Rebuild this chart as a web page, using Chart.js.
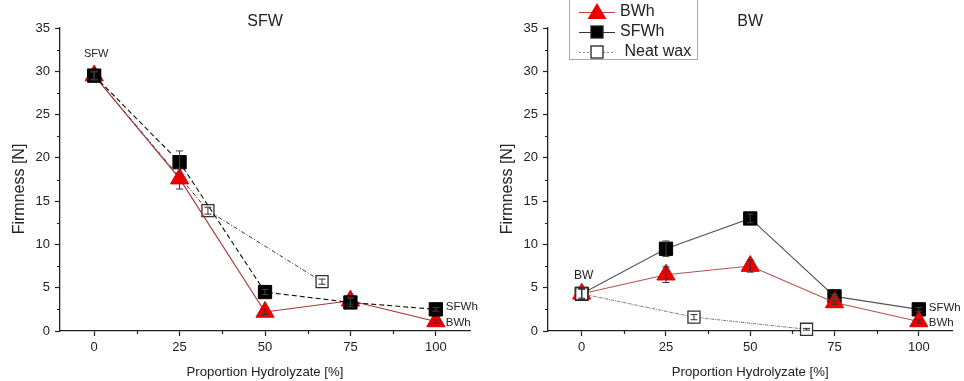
<!DOCTYPE html>
<html><head><meta charset="utf-8">
<script src="https://cdn.jsdelivr.net/npm/chart.js@4/dist/chart.umd.min.js"></script>
<style>
html,body{margin:0;padding:0;background:#fff;}
#wrap{position:relative;width:964px;height:381px;overflow:hidden;}
canvas{position:absolute;top:0;}
#c1{left:0}
#c2{left:482px}
</style></head><body>
<div id="wrap"><canvas id="c1" width="482" height="381"></canvas><canvas id="c2" width="482" height="381"></canvas></div>
<script>
// ---- data ----
const proportions = [0, 25, 50, 75, 100];
const neatProportions = [0, 33.3, 66.7];
const xTicks = [0, 25, 50, 75, 100];
const xMinorTicks = [12.5, 37.5, 62.5, 87.5];
const yTicks = [0, 5, 10, 15, 20, 25, 30, 35];
const yMinorTicks = [2.5, 7.5, 12.5, 17.5, 22.5, 27.5, 32.5];
const seriesNames = ['BWh', 'SFWh', ' Neat wax'];

// SFW panel
const sfwBWh = [29.5, 17.6, 2.2, 3.5, 1.1];
const sfwBWhErr = [0.4, 1.2, 0.3, 0.4, 0.2];
const sfwSFWh = [29.5, 19.5, 4.5, 3.3, 2.5];
const sfwSFWhErr = [0.5, 1.3, 0.3, 0.5, 0.2];
const sfwNeat = [29.5, 13.9, 5.7];
const sfwNeatErr = [0.5, 0.4, 0.3];

// BW panel
const bwBWh = [4.3, 6.5, 7.5, 3.3, 1.1];
const bwBWhErr = [0.6, 0.9, 0.7, 0.2, 0.2];
const bwSFWh = [4.3, 9.5, 13.0, 4.0, 2.5];
const bwSFWhErr = [0.5, 0.9, 0.5, 0.2, 0.2];
const bwNeat = [4.3, 1.6, 0.2];
const bwNeatErr = [0.7, 0.3, 0.1];

const FONT = '"Liberation Sans", Arial, Helvetica, sans-serif';
const TXT = '#222';
Chart.defaults.font.family = FONT;
Chart.defaults.color = TXT;

function pts(xs, ys) { return xs.map((x, i) => ({x: x, y: ys[i]})); }

// ---- plugins ----
const errorBarPlugin = {
  id: 'errbars',
  afterDatasetsDraw(chart) {
    const ctx = chart.ctx, xs = chart.scales.x, ys = chart.scales.y;
    chart.data.datasets.forEach(ds => {
      if (!ds.errors) return;
      ds.data.forEach((p, j) => {
        const e = ds.errors[j]; if (!e) return;
        const px = xs.getPixelForValue(p.x);
        const y1 = ys.getPixelForValue(p.y + e), y2 = ys.getPixelForValue(p.y - e);
        ctx.save();
        ctx.strokeStyle = ds.errorColor || '#333'; ctx.lineWidth = 1;
        ctx.beginPath();
        ctx.moveTo(px, y1); ctx.lineTo(px, y2);
        ctx.moveTo(px - 3.5, y1); ctx.lineTo(px + 3.5, y1);
        ctx.moveTo(px - 3.5, y2); ctx.lineTo(px + 3.5, y2);
        ctx.stroke(); ctx.restore();
      });
    });
  }
};

const minorTickPlugin = {
  id: 'minorticks',
  afterDraw(chart) {
    const ctx = chart.ctx, xs = chart.scales.x, ys = chart.scales.y, a = chart.chartArea;
    ctx.save(); ctx.strokeStyle = '#222'; ctx.lineWidth = 1.2; ctx.beginPath();
    xMinorTicks.forEach(v => { const px = Math.round(xs.getPixelForValue(v)) + 0.5; ctx.moveTo(px, a.bottom); ctx.lineTo(px, a.bottom + 3); });
    yMinorTicks.forEach(v => { const py = Math.round(ys.getPixelForValue(v)) + 0.5; ctx.moveTo(a.left, py); ctx.lineTo(a.left - 3, py); });
    ctx.stroke(); ctx.restore();
  }
};

const textPlugin = {
  id: 'paneltext',
  afterDraw(chart, args, opts) {
    const ctx = chart.ctx, a = chart.chartArea, xs = chart.scales.x, ys = chart.scales.y;
    ctx.save();
    ctx.fillStyle = TXT;
    // panel title
    ctx.font = '16px ' + FONT; ctx.textAlign = 'center'; ctx.textBaseline = 'middle';
    ctx.fillText(opts.title, (a.left + a.right) / 2, 22);
    // y axis title
    ctx.save();
    ctx.translate(opts.yTitleX, 189); ctx.rotate(-Math.PI / 2);
    ctx.font = '16px ' + FONT; ctx.fillText('Firmness [N]', 0, 0);
    ctx.restore();
    // notes tied to data points
    (opts.notes || []).forEach(n => {
      ctx.font = (n.size || 11.5) + 'px ' + FONT;
      ctx.textAlign = n.align || 'center';
      ctx.fillText(n.text, xs.getPixelForValue(n.x) + n.dx, ys.getPixelForValue(n.y) + n.dy);
    });
    ctx.restore();
  }
};

const legendPlugin = {
  id: 'customlegend',
  afterDraw(chart, args, opts) {
    if (!opts.show) return;
    const ctx = chart.ctx;
    ctx.save();
    ctx.fillStyle = '#fff'; ctx.fillRect(87, -1, 128, 61);
    ctx.strokeStyle = '#aaa'; ctx.lineWidth = 1; ctx.strokeRect(87.5, -1.5, 128, 61);
    const rows = [12, 32, 52];
    chart.data.datasets.forEach((ds, i) => {
      const y = rows[i];
      ctx.strokeStyle = ds.legendLine; ctx.lineWidth = 1;
      ctx.setLineDash(ds.legendDash || []);
      ctx.beginPath(); ctx.moveTo(97, y + 0.5); ctx.lineTo(133, y + 0.5); ctx.stroke();
      ctx.setLineDash([]);
      const cx = 115;
      if (ds.pointStyle === 'triangle') {
        ctx.fillStyle = '#ee0000';
        ctx.beginPath(); ctx.moveTo(cx, y - 9); ctx.lineTo(cx + 9.5, y + 7); ctx.lineTo(cx - 9.5, y + 7); ctx.closePath(); ctx.fill();
      } else {
        ctx.fillStyle = ds.backgroundColor; ctx.strokeStyle = '#222'; ctx.lineWidth = 1.3;
        ctx.fillRect(cx - 6, y - 6, 12, 12); ctx.strokeRect(cx - 6, y - 6, 12, 12);
      }
      ctx.fillStyle = TXT; ctx.font = '16px ' + FONT; ctx.textAlign = 'left'; ctx.textBaseline = 'middle';
      ctx.fillText(ds.label, 138, y);
    });
    ctx.restore();
  }
};

function scalesFor(yWidth) {
  return {
    x: {
      type: 'linear', min: -10, max: 110,
      afterBuildTicks: ax => { ax.ticks = xTicks.map(v => ({value: v})); },
      afterFit: ax => { ax.height = 50; },
      grid: {drawOnChartArea: false, drawTicks: true, tickLength: 5, tickColor: '#222', tickWidth: 1.2},
      border: {display: true, color: '#222', width: 1.3},
      ticks: {font: {size: 13}, color: TXT, padding: 4, maxRotation: 0},
      title: {display: true, text: 'Proportion Hydrolyzate [%]', font: {size: 13.2}, color: TXT, padding: {top: 0, bottom: 0.5}}
    },
    y: {
      type: 'linear', min: 0, max: 35,
      afterBuildTicks: ax => { ax.ticks = yTicks.map(v => ({value: v})); },
      afterFit: ax => { ax.width = yWidth; },
      grid: {drawOnChartArea: false, drawTicks: true, tickLength: 5, tickColor: '#222', tickWidth: 1.2},
      border: {display: true, color: '#222', width: 1.3},
      ticks: {font: {size: 13}, color: TXT, padding: 5}
    }
  };
}

function makeDatasets(bwh, bwhErr, sfwh, sfwhErr, neat, neatErr, style) {
  return [
    {label: seriesNames[0], data: pts(proportions, bwh), errors: bwhErr,
     borderColor: style.bwhLine, borderWidth: 1.1, borderDash: [],
     pointStyle: 'triangle', pointRadius: 10.5, pointHoverRadius: 10.5,
     backgroundColor: '#ee0000', pointBackgroundColor: '#ee0000', pointBorderColor: '#d40000', pointBorderWidth: 1,
     legendLine: '#c04040', order: style.order[0]},
    {label: seriesNames[1], data: pts(proportions, sfwh), errors: sfwhErr, errorColor: '#444',
     borderColor: style.sfwhLine, borderWidth: 1.1, borderDash: style.sfwhDash,
     pointStyle: 'rect', pointRadius: 9.4, pointHoverRadius: 9.4,
     backgroundColor: '#000', pointBackgroundColor: '#000', pointBorderColor: '#000', pointBorderWidth: 1,
     legendLine: '#333', order: style.order[1]},
    {label: seriesNames[2], data: pts(neatProportions, neat), errors: neatErr,
     borderColor: style.neatLine, borderWidth: 1, borderDash: style.neatDash,
     pointStyle: 'rect', pointRadius: 8.5, pointHoverRadius: 8.5,
     backgroundColor: '#fff', pointBackgroundColor: '#fff', pointBorderColor: '#333', pointBorderWidth: 1.3,
     legendLine: '#888', legendDash: [2, 2], order: style.order[2]}
  ].map(d => Object.assign(d, {showLine: true, tension: 0, clip: false, fill: false}));
}

new Chart(document.getElementById('c1'), {
  type: 'line',
  data: {datasets: makeDatasets(sfwBWh, sfwBWhErr, sfwSFWh, sfwSFWhErr, sfwNeat, sfwNeatErr,
    {bwhLine: '#a83030', sfwhLine: '#111', sfwhDash: [5, 3], neatLine: '#333', neatDash: [4, 2, 1, 2], order: [1, 0, 2]})},
  options: {
    responsive: false, animation: false, events: [],
    layout: {padding: {top: 28, right: 12, left: 0, bottom: 0}},
    scales: scalesFor(60),
    plugins: {
      legend: {display: false}, tooltip: {enabled: false},
      paneltext: {title: 'SFW', yTitleX: 20, notes: [
        {text: 'SFW', x: proportions[0], y: sfwSFWh[0], dx: 2, dy: -22, size: 11},
        {text: 'SFWh', x: proportions[4], y: sfwSFWh[4], dx: 10, dy: -3, align: 'left'},
        {text: 'BWh', x: proportions[4], y: sfwBWh[4], dx: 10, dy: 1.5, align: 'left'}
      ]},
      customlegend: {show: false}
    }
  },
  plugins: [minorTickPlugin, errorBarPlugin, textPlugin, legendPlugin]
});

new Chart(document.getElementById('c2'), {
  type: 'line',
  data: {datasets: makeDatasets(bwBWh, bwBWhErr, bwSFWh, bwSFWhErr, bwNeat, bwNeatErr,
    {bwhLine: '#b85050', sfwhLine: '#555', sfwhDash: [], neatLine: '#777', neatDash: [3, 1, 1, 1], order: [1, 2, 0]})},
  options: {
    responsive: false, animation: false, events: [],
    layout: {padding: {top: 28, right: 7, left: 0, bottom: 0}},
    scales: scalesFor(66),
    plugins: {
      legend: {display: false}, tooltip: {enabled: false},
      paneltext: {title: 'BW', yTitleX: 26, notes: [
        {text: 'BW', x: proportions[0], y: bwNeat[0], dx: 2, dy: -18, size: 12},
        {text: 'SFWh', x: proportions[4], y: bwSFWh[4], dx: 10, dy: -2, align: 'left'},
        {text: 'BWh', x: proportions[4], y: bwBWh[4], dx: 10, dy: 1.5, align: 'left'}
      ]},
      customlegend: {show: true}
    }
  },
  plugins: [minorTickPlugin, errorBarPlugin, textPlugin, legendPlugin]
});
</script>
</body></html>
